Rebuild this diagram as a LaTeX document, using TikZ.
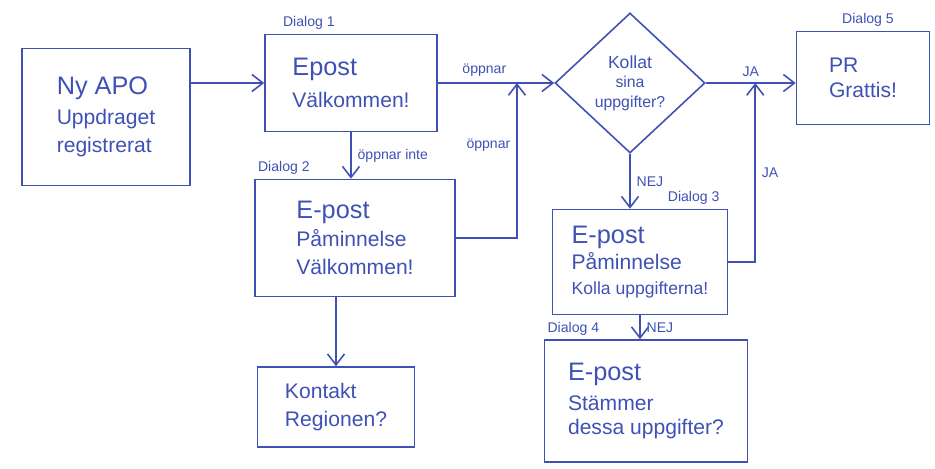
\documentclass[tikz,border=0pt]{standalone}
\usepackage{fontspec}
\setmainfont{Liberation Sans}
\usetikzlibrary{positioning,arrows.meta,shapes.geometric,calc}
\definecolor{ink}{HTML}{3F51B5}

\begin{document}
\begin{tikzpicture}[
  box/.style={draw=ink, line width=0.9pt, text=ink, align=left, font=\large, inner sep=6pt},
  choice/.style={diamond, draw=ink, line width=0.9pt, text=ink, align=center, inner sep=0pt, minimum width=3cm, minimum height=2.8cm},
  dlg/.style={text=ink, font=\footnotesize, inner sep=2pt},
  lbl/.style={text=ink, font=\footnotesize},
  arr/.style={-{Straight Barb[length=2.2mm,width=3.4mm]}, draw=ink, line width=0.9pt}
]
\useasboundingbox (0,0) rectangle (18.7,9.38);

% boxes
\node[box, minimum width=3.36cm, minimum height=2.74cm] (apo) at (2.12,7.04) {{\Large Ny APO}\\[3pt] Uppdraget\\[2pt] registrerat};
\node[box, minimum width=3.44cm, minimum height=1.94cm] (welcome) at (7.02,7.72) {{\Large Epost}\\[4pt] Välkommen!};
\node[box, minimum width=4.0cm, minimum height=2.34cm] (remind) at (7.10,4.62) {{\Large E-post}\\[2pt] Påminnelse\\[2pt] Välkommen!};
\node[box, minimum width=3.14cm, minimum height=1.6cm] (contact) at (6.72,1.24) {Kontakt\\[2pt] Regionen?};
\node[choice] (check) at (12.6,7.72) {{\normalsize Kollat}\\[-1pt] {\small sina}\\[-1pt] {\small uppgifter?}};
\node[box, minimum width=2.66cm, minimum height=1.86cm] (grattis) at (17.26,7.82) {PR\\ Grattis!};
\node[box, minimum width=3.5cm, minimum height=2.1cm] (check2) at (12.8,4.14) {{\Large E-post}\\[1pt] Påminnelse\\ {\normalsize Kolla uppgifterna!}};
\node[box, minimum width=4.06cm, minimum height=2.44cm] (confirm) at (12.92,1.36) {{\Large E-post}\\[3pt] Stämmer\\ dessa uppgifter?};

% dialog labels
\node[dlg, anchor=south west, xshift=0.3cm] at (welcome.north west) {Dialog 1};
\node[dlg, anchor=south west] at (remind.north west) {Dialog 2};
\node[dlg, anchor=south east, xshift=-0.1cm] at (check2.north east) {Dialog 3};
\node[dlg, anchor=south west] at (confirm.north west) {Dialog 4};
\node[dlg, anchor=south, xshift=0.1cm] at (grattis.north) {Dialog 5};

% junctions
\coordinate (j1) at ($(welcome.east)!0.68!(check.west)$);
\coordinate (j2) at ($(check.east)!0.55!(check.east -| grattis.west)$);

% connectors
\draw[arr] (apo.east |- welcome.west) -- (welcome.west);
\draw[arr] (welcome.east) -- node[lbl, above, pos=0.4] {öppnar} (check.west);
\draw[arr] (welcome.south) -- node[lbl, right] {öppnar inte} (welcome.south |- remind.north);
\draw[arr] (remind.east) -| node[lbl, left, pos=0.8] {öppnar} (j1);
\draw[arr] (remind.south -| contact.north) -- (contact.north);
\draw[arr] (check.east) -- node[lbl, above] {JA} (check.east -| grattis.west);
\draw[arr] (check.south) -- node[lbl, right] {NEJ} (check.south |- check2.north);
\draw[arr] (check2.east) -| node[lbl, right, pos=0.75] {JA} (j2);
\draw[arr] (check2.south) -- node[lbl, right] {NEJ} (check2.south |- confirm.north);
\end{tikzpicture}
\end{document}
